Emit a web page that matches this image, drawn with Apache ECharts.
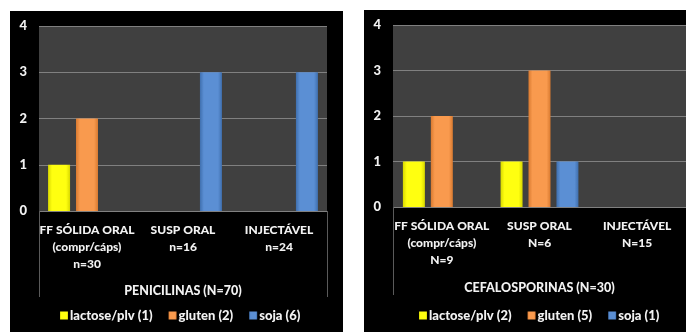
<!DOCTYPE html>
<html>
<head>
<meta charset="utf-8">
<script src="https://cdn.jsdelivr.net/npm/echarts@6/dist/echarts.min.js"></script>
<style>
html,body{margin:0;padding:0;background:#fff;width:686px;height:332px;overflow:hidden;}
#c1{position:absolute;left:10px;top:11px;width:333px;height:321px;background:#000;}
#c2{position:absolute;left:364px;top:10px;width:322px;height:322px;background:#000;overflow:hidden;}
</style>
</head>
<body>
<div id="c1"></div>
<div id="c2"></div>
<script>
// ---- data ----
const categoriesPen = ['FF SÓLIDA ORAL\n(compr/cáps)\nn=30', 'SUSP ORAL\nn=16', 'INJECTÁVEL\nn=24'];
const categoriesCef = ['FF SÓLIDA ORAL\n(compr/cáps)\nN=9', 'SUSP ORAL\nN=6', 'INJECTÁVEL\nN=15'];
const titlePen = 'PENICILINAS (N=70)';
const titleCef = 'CEFALOSPORINAS (N=30)';
const seriesNamesPen = ['lactose/plv (1)', 'gluten (2)', 'soja (6)'];
const seriesNamesCef = ['lactose/plv (2)', 'gluten (5)', 'soja (1)'];
const penLactose = [1, 0, 0];
const penGluten  = [2, 0, 0];
const penSoja    = [0, 3, 3];
const cefLactose = [1, 1, 0];
const cefGluten  = [2, 3, 0];
const cefSoja    = [0, 1, 0];
const yTicks = [0, 1, 2, 3, 4];

const FONT = 'Lato';
const TXT = '#f2f2f2';
const baseColors = [
  ['#d8d800', '#ffff10', '#d8d800'],
  ['#d97a30', '#f99a4e', '#d97a30'],
  ['#3f6fae', '#5b8fd4', '#3f6fae']
];
function grad(c) {
  return new echarts.graphic.LinearGradient(0, 0, 1, 0, [
    {offset: 0, color: c[0]}, {offset: 0.18, color: c[1]},
    {offset: 0.82, color: c[1]}, {offset: 1, color: c[2]}
  ]);
}

function makeOption(cats, title, names, values, grid, legendLeft, tickLen, nameGap) {
  return {
    animation: false,
    textStyle: {fontFamily: FONT},
    grid: Object.assign({show: true, backgroundColor: '#404040', borderWidth: 0, containLabel: false}, grid),
    legend: {
      left: legendLeft, bottom: 5, itemWidth: 8, itemHeight: 8, itemGap: 16,
      icon: 'rect',
      textStyle: {color: TXT, fontFamily: FONT, fontWeight: 900, fontSize: 13, padding: [0, 0, 0, -3]},
      data: names
    },
    xAxis: {
      type: 'category', data: cats,
      axisLine: {show: false},
      axisTick: {show: true, interval: function (i) { return i === 0; }, length: tickLen, lineStyle: {color: '#5a5a5a', width: 1}},
      axisLabel: {color: TXT, fontFamily: FONT, fontWeight: 900, fontSize: 12, lineHeight: 17, margin: 11, interval: 0},
      name: title, nameLocation: 'middle', nameGap: nameGap,
      nameTextStyle: {color: TXT, fontFamily: FONT, fontWeight: 900, fontSize: 12.5}
    },
    yAxis: {
      type: 'value', min: yTicks[0], max: yTicks[yTicks.length - 1], interval: 1,
      axisLine: {show: false}, axisTick: {show: false},
      axisLabel: {color: TXT, fontFamily: FONT, fontWeight: 900, fontSize: 13, margin: 12},
      splitLine: {lineStyle: {color: '#808080', width: 1}}
    },
    series: values.map(function (v, i) {
      return {
        name: names[i], type: 'bar', data: v, barWidth: 22, barGap: '27%',
        itemStyle: {color: grad(baseColors[i])}
      };
    })
  };
}

const ch1 = echarts.init(document.getElementById('c1'));
ch1.setOption(makeOption(categoriesPen, titlePen, seriesNamesPen, [penLactose, penGluten, penSoja],
  {left: 29, top: 15, width: 288, height: 185}, 45, 86, 73));

const ch2 = echarts.init(document.getElementById('c2'));
ch2.setOption(makeOption(categoriesCef, titleCef, seriesNamesCef, [cefLactose, cefGluten, cefSoja],
  {left: 29, top: 15, width: 294, height: 182}, 50, 88, 74));
</script>
</body>
</html>
